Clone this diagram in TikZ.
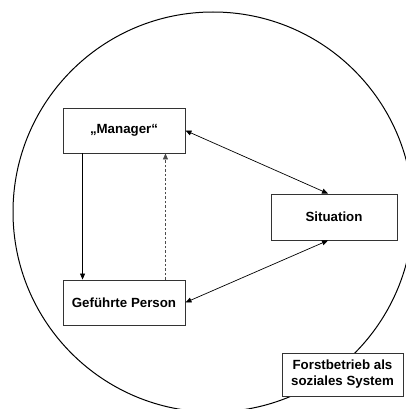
\documentclass[tikz,border=0pt]{standalone}
\usepackage{fontspec}
\setmainfont{Liberation Sans}
\usetikzlibrary{arrows.meta}
\begin{document}
\begin{tikzpicture}[x=1pt,y=-1pt,
  box/.style={draw=black!80, line width=0.9pt, fill=white, minimum width=122pt,
    minimum height=45pt, inner sep=0pt, align=center,
    font=\fontsize{13.3}{16}\selectfont\bfseries},
  tip/.style={Triangle[length=6pt,width=5pt]},
  link/.style={line width=0.7pt, -{Triangle[length=6pt,width=5pt]}},
  dlink/.style={line width=0.6pt, draw=black!70, dashed, dash pattern=on 2.5pt off 2pt,
    -{Triangle[length=6pt,width=5pt]}},
  both/.style={line width=0.7pt, {Triangle[length=6pt,width=5pt]}-{Triangle[length=6pt,width=5pt]}},
]
\useasboundingbox (0,0) rectangle (406,409);
% the enterprise as a social system
\begin{scope}
  \clip (0,0) rectangle (406,409);
  \draw[line width=1pt] (213,212) circle [radius=200];
\end{scope}

\node[box] (mgr) at (124,130.5) {„Manager“};
\node[box] (gp)  at (124,302.5) {Geführte Person};
\node[box, minimum width=126pt, minimum height=46pt] (sit) at (334,217) {Situation};
\node[box, minimum width=121pt, minimum height=43pt] (fb) at (342.5,374.5)
  {Forstbetrieb als\\soziales System};

\draw[link]  ([xshift=20pt]mgr.south west) -- ([xshift=20pt]gp.north west);
\draw[dlink] ([xshift=-20pt]gp.north east) -- ([xshift=-20pt]mgr.south east);
\draw[both]  (mgr.east) -- ([xshift=-6pt]sit.north);
\draw[both]  (gp.east) -- ([xshift=-6pt]sit.south);
\end{tikzpicture}
\end{document}
